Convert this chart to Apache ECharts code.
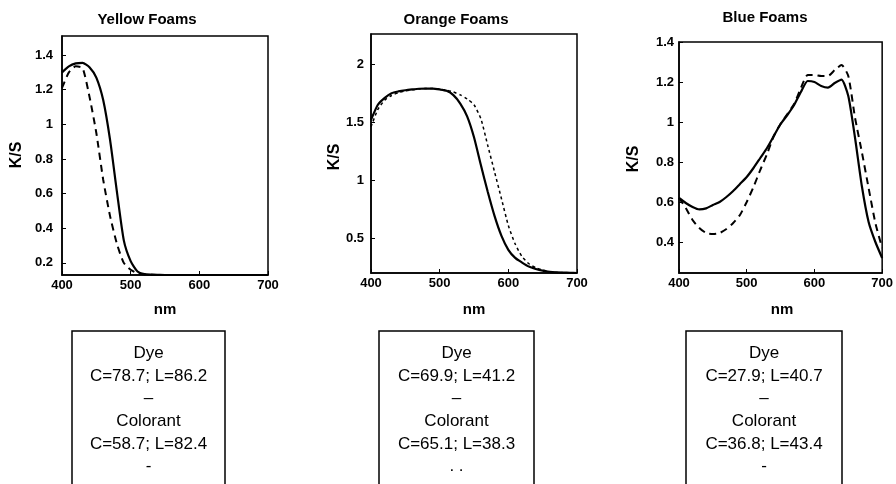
<!DOCTYPE html>
<html>
<head>
<meta charset="utf-8">
<script src="https://cdn.jsdelivr.net/npm/echarts@6/dist/echarts.min.js"></script>
<style>
  html, body { margin: 0; padding: 0; background: #fff; }
  #chart { width: 896px; height: 484px; }
</style>
</head>
<body>
<div id="chart"></div>
<script>
// wavelength grid (nm), read every 10 nm off the scanned curves
const wavelengths = [400, 410, 420, 430, 440, 450, 460, 470, 480, 490,
  500, 510, 520, 530, 540, 550, 560, 570, 580, 590,
  600, 610, 620, 630, 640, 650, 660, 670, 680, 690, 700];

const yellowDye = [1.30, 1.335, 1.352, 1.355, 1.33, 1.27, 1.14, 0.91, 0.61, 0.33,
  0.21, 0.15, 0.135, 0.132, 0.131, 0.13, 0.13, 0.13, 0.13, 0.13,
  0.13, 0.13, 0.13, 0.13, 0.13, 0.13, 0.13, 0.13, 0.13, 0.13, 0.13];
const yellowColorant = [1.21, 1.30, 1.335, 1.325, 1.16, 0.95, 0.68, 0.47, 0.31, 0.20,
  0.16, 0.14, 0.133, 0.131, 0.13, 0.13, 0.13, 0.13, 0.13, 0.13,
  0.13, 0.13, 0.13, 0.13, 0.13, 0.13, 0.13, 0.13, 0.13, 0.13, 0.13];

const orangeDye = [1.52, 1.65, 1.71, 1.75, 1.765, 1.775, 1.782, 1.788, 1.79, 1.79,
  1.782, 1.77, 1.733, 1.66, 1.55, 1.37, 1.13, 0.90, 0.69, 0.52,
  0.40, 0.33, 0.29, 0.255, 0.235, 0.22, 0.21, 0.205, 0.203, 0.202, 0.20];
const orangeColorant = [1.46, 1.61, 1.69, 1.73, 1.755, 1.77, 1.78, 1.786, 1.79, 1.79,
  1.785, 1.775, 1.76, 1.735, 1.70, 1.65, 1.53, 1.30, 1.07, 0.84,
  0.61, 0.45, 0.34, 0.28, 0.245, 0.225, 0.212, 0.206, 0.203, 0.202, 0.20];

const blueDye = [0.62, 0.595, 0.575, 0.563, 0.568, 0.585, 0.60, 0.625, 0.655, 0.69,
  0.725, 0.77, 0.82, 0.87, 0.93, 0.99, 1.035, 1.085, 1.15, 1.205,
  1.20, 1.18, 1.172, 1.195, 1.212, 1.13, 0.92, 0.68, 0.50, 0.40, 0.32];
const blueColorant = [0.62, 0.57, 0.51, 0.47, 0.445, 0.44, 0.445, 0.465, 0.495, 0.535,
  0.60, 0.675, 0.76, 0.84, 0.93, 0.99, 1.04, 1.09, 1.17, 1.235,
  1.235, 1.23, 1.23, 1.26, 1.285, 1.23, 1.02, 0.85, 0.67, 0.495, 0.37];

// tick labels
const xTicks = [400, 500, 600, 700];
const yellowTicks = [0.2, 0.4, 0.6, 0.8, 1, 1.2, 1.4];
const orangeTicks = [0.5, 1, 1.5, 2];
const blueTicks = [0.4, 0.6, 0.8, 1, 1.2, 1.4];

const titles = ["Yellow Foams", "Orange Foams", "Blue Foams"];
const boxLines = [
  ["Dye", "C=78.7; L=86.2", "\u2013", "Colorant", "C=58.7; L=82.4", "-"],
  ["Dye", "C=69.9; L=41.2", "\u2013", "Colorant", "C=65.1; L=38.3", ". ."],
  ["Dye", "C=27.9; L=40.7", "\u2013", "Colorant", "C=36.8; L=43.4", "-"]
];

const FONT = "Liberation Sans, Arial, sans-serif";

const panels = [
  { grid: { left: 62, top: 36, width: 206, height: 239 }, min: 0.13, max: 1.51, ticks: yellowTicks,
    dye: yellowDye, col: yellowColorant, colDash: [7, 5], colWidth: 2, labelMargin: 9,
    titleX: 147, titleY: 20, ksX: 17, ksY: 155, nmX: 165, boxL: 72, boxR: 225 },
  { grid: { left: 371, top: 34, width: 206, height: 239 }, min: 0.2, max: 2.26, ticks: orangeTicks,
    dye: orangeDye, col: orangeColorant, colDash: [3, 3], colWidth: 1.5, labelMargin: 7,
    titleX: 456, titleY: 20, ksX: 335, ksY: 157, nmX: 474, boxL: 379, boxR: 534 },
  { grid: { left: 679, top: 42, width: 206, height: 231 }, min: 0.245, max: 1.4, ticks: blueTicks,
    dye: blueDye, col: blueColorant, colDash: [7, 5], colWidth: 2, labelMargin: 5,
    titleX: 765, titleY: 18, ksX: 634, ksY: 159, nmX: 782, boxL: 686, boxR: 842 }
];

const pairs = (vals) => wavelengths.map((w, i) => [w, vals[i]]);

const grid = [], xAxis = [], yAxis = [], series = [], graphic = [];

panels.forEach((p, i) => {
  grid.push(Object.assign({ show: true, borderColor: "#000", borderWidth: 1.5, containLabel: false }, p.grid));
  xAxis.push({
    type: "value", gridIndex: i, min: 400, max: 700,
    axisLine: { show: true, onZero: false, lineStyle: { color: "#000", width: 1.5 } },
    axisTick: { show: true, inside: true, length: 4, customValues: xTicks, lineStyle: { color: "#000" } },
    axisLabel: { customValues: xTicks, color: "#000", fontFamily: FONT, fontWeight: "bold", fontSize: 13, margin: 4 },
    splitLine: { show: false }
  });
  yAxis.push({
    type: "value", gridIndex: i, min: p.min, max: p.max,
    axisLine: { show: true, onZero: false, lineStyle: { color: "#000", width: 1.5 } },
    axisTick: { show: true, inside: true, length: 4, customValues: p.ticks, lineStyle: { color: "#000" } },
    axisLabel: { customValues: p.ticks, color: "#000", fontFamily: FONT, fontWeight: "bold", fontSize: 13, margin: p.labelMargin },
    splitLine: { show: false }
  });
  series.push({
    type: "line", xAxisIndex: i, yAxisIndex: i, data: pairs(p.dye), smooth: 0.2,
    showSymbol: false, lineStyle: { color: "#000", width: 2.2, type: "solid" }
  });
  series.push({
    type: "line", xAxisIndex: i, yAxisIndex: i, data: pairs(p.col), smooth: 0.2,
    showSymbol: false, lineStyle: { color: "#000", width: p.colWidth, type: p.colDash }
  });

  graphic.push({ type: "text", x: p.titleX, y: p.titleY,
    style: { text: titles[i], font: "bold 15px " + FONT, fill: "#000", align: "center", verticalAlign: "middle" } });
  graphic.push({ type: "text", x: p.ksX, y: p.ksY, rotation: Math.PI / 2,
    style: { text: "K/S", font: "bold 16px " + FONT, fill: "#000", align: "center", verticalAlign: "middle" } });
  graphic.push({ type: "text", x: p.nmX, y: 310,
    style: { text: "nm", font: "bold 15px " + FONT, fill: "#000", align: "center", verticalAlign: "middle" } });
  graphic.push({ type: "rect", shape: { x: p.boxL, y: 331, width: p.boxR - p.boxL, height: 200 },
    style: { fill: "none", stroke: "#000", lineWidth: 1.5 } });
  const cx = (p.boxL + p.boxR) / 2;
  const lineY = [353, 376, 398, 421, 444, 466];
  boxLines[i].forEach((t, k) => {
    graphic.push({ type: "text", x: cx, y: lineY[k],
      style: { text: t, font: "17px " + FONT, fill: "#000", align: "center", verticalAlign: "middle" } });
  });
});

const chart = echarts.init(document.getElementById("chart"), null, { renderer: "canvas" });
chart.setOption({
  animation: false,
  backgroundColor: "#fff",
  grid, xAxis, yAxis, series, graphic
});
</script>
</body>
</html>
